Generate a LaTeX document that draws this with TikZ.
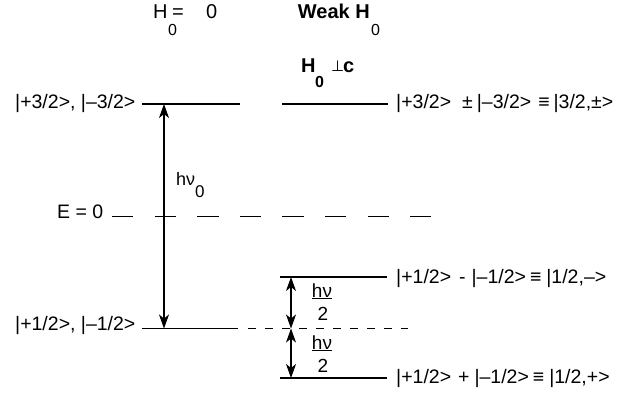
\documentclass[tikz,border=0pt]{standalone}
\usepackage{fontspec}
\setmainfont{Liberation Sans}
\newfontfamily\dejavu{DejaVu Sans}
\usetikzlibrary{arrows.meta}
\begin{document}
\begin{tikzpicture}[x=1pt,y=-1pt,
  lvl/.style={line width=1.2pt},
  dashA/.style={line width=1.2pt, dash pattern=on 21.3pt off 21.3pt},
  dashB/.style={line width=1.2pt, dash pattern=on 8pt off 9pt},
  lab/.style={font=\fontsize{19.5}{22}\selectfont, inner sep=0pt, anchor=base west},
  ttl/.style={font=\fontsize{20}{22}\selectfont, inner sep=0pt, anchor=base west},
  ttlb/.style={font=\fontsize{20}{22}\selectfont\bfseries, inner sep=0pt, anchor=base west},
  sub/.style={font=\fontsize{16}{18}\selectfont, inner sep=0pt, anchor=base west},
  frac/.style={font=\fontsize{19}{21}\selectfont, inner sep=0pt, anchor=base},
  dbl/.style={line width=1.1pt, {Stealth[length=14pt,width=10pt,inset=4pt]}-{Stealth[length=14pt,width=10pt,inset=4pt]}}
]
\useasboundingbox (0,0) rectangle (623,392);

% level coordinates
\coordinate (tL1) at (142,104);
\coordinate (tL2) at (240,104);
\coordinate (tR1) at (282,104);
\coordinate (tR2) at (388,104);
\coordinate (e1) at (112,216.5);
\coordinate (e2) at (431,216.5);
\coordinate (uR1) at (280,277);
\coordinate (uR2) at (387,277);
\coordinate (mL1) at (142,328.5);
\coordinate (mL2) at (238,328.5);
\coordinate (mD1) at (248,328.5);
\coordinate (mD2) at (408,328.5);
\coordinate (bR1) at (280,378);
\coordinate (bR2) at (387,378);
\coordinate (aTop) at (164,104);
\coordinate (aBot) at (164,328.5);
\coordinate (sTop) at (291,277);
\coordinate (sMid) at (291,328.5);
\coordinate (sBot) at (291,378);

% levels
\draw[lvl] (tL1) -- (tL2);
\draw[lvl] (tR1) -- (tR2);
\draw[dashA] (e1) -- (e2);
\draw[lvl] (uR1) -- (uR2);
\draw[lvl] (mL1) -- (mL2);
\draw[dashB] (mD1) -- (mD2);
\draw[lvl] (bR1) -- (bR2);

% arrows
\draw[dbl] (aTop) -- (aBot);
\draw[dbl] (sTop) -- (sMid);
\draw[dbl] (sMid) -- (sBot);

% titles
\node[ttl] (t1H) at (153,18) {H};
\node[sub] (t1s) at (168,35) {0};
\node[ttl] (t1eq) at (172,18) {=};
\node[ttl] (t1z) at (206,18) {0};
\node[ttlb,anchor=base east] (t2) at (370,18) {Weak H};
\node[sub] (t2s) at (371,35) {0};
\node[ttlb] (t3H) at (301,72) {H};
\node[sub,font=\fontsize{16}{18}\selectfont\bfseries] (t3s) at (315,87) {0};
\node[ttl,font=\fontsize{15}{17}\selectfont] (t3p) at (331,71) {\dejavu ⊥};
\node[ttlb] (t3c) at (343,72) {c};

% level labels
\node[lab] (l1) at (15,108) {|+3/2>, |–3/2>};
\node[lab] (r1) at (396,108) {|+3/2>\hspace{11pt}±\hspace{4pt}|–3/2>\hspace{7pt}≡\hspace{4pt}|3/2,±>};
\node[lab] (e0) at (57,218) {E = 0};
\node[lab] (l2) at (15,330) {|+1/2>, |–1/2>};
\node[lab] (r2) at (396,283) {|+1/2>\hspace{8pt}-\hspace{6pt}|–1/2>\hspace{4pt}≡\hspace{5pt}|1/2,–>};
\node[lab] (r3) at (396,383) {|+1/2>\hspace{7pt}+\hspace{5pt}|–1/2>\hspace{4pt}≡\hspace{5pt}|1/2,+>};

% energy labels
\node[sub,font=\fontsize{18}{20}\selectfont] (hv0) at (176,185) {hν};
\node[sub,font=\fontsize{17}{19}\selectfont] (hv0s) at (195,197) {0};
\node[frac] (hva) at (322,297) {\underline{hν}};
\node[frac] (twoa) at (323,320) {2};
\node[frac] (hvb) at (322,349) {\underline{hν}};
\node[frac] (twob) at (323,372) {2};
\end{tikzpicture}
\end{document}
